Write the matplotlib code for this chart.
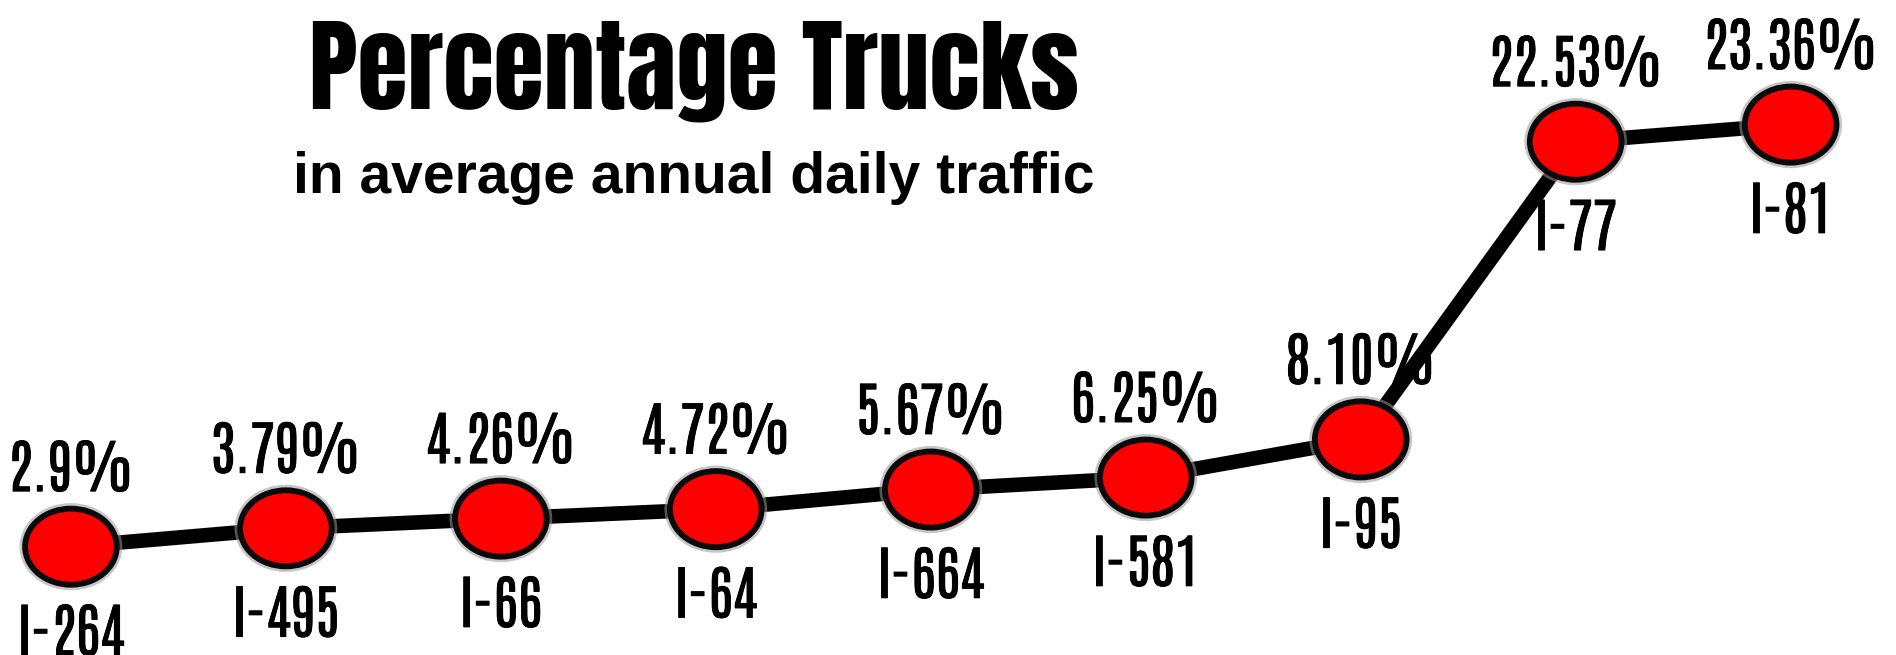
#import the necessary libraries
import numpy as np
import matplotlib
matplotlib.use('Agg')
import matplotlib.pyplot as plt
import matplotlib.patheffects as pe
from matplotlib.path import Path
from matplotlib.transforms import Affine2D

# data
highways = ['I-264', 'I-495', 'I-66', 'I-64', 'I-664', 'I-581', 'I-95', 'I-77', 'I-81']
truck_pct = [2.9, 3.79, 4.26, 4.72, 5.67, 6.25, 8.10, 22.53, 23.36]
pct_labels = ['2.9%', '3.79%', '4.26%', '4.72%', '5.67%', '6.25%', '8.10%', '22.53%', '23.36%']

label_font = ['Antonio', 'Archivo Narrow', 'DejaVu Sans']

x = np.arange(len(highways))

fig = plt.figure(figsize=(18.96, 6.55), dpi=100)
ax = fig.add_axes([0, 0, 1, 1])
ax.set_xlim(-0.33, 8.49)
ax.set_ylim(-2.35, 29.4)
ax.axis('off')

# thick black connecting line
ax.plot(x, truck_pct, color='black', lw=10.5, solid_capstyle='round', zorder=1)

# red oval markers, dark rim with a soft grey glow
oval = Affine2D().scale(1, 0.83).transform_path(Path.unit_circle())
ax.plot(x, truck_pct, linestyle='none', marker=oval, markersize=66,
        markerfacecolor='#ff0000', markeredgecolor='#0a0a0a', markeredgewidth=4.2,
        zorder=2,
        path_effects=[pe.Stroke(linewidth=8, foreground='#9a9a9a', alpha=0.55), pe.Normal()])

# value above, highway name below (thin stroke makes the font a touch heavier)
thicker = [pe.Stroke(linewidth=0.6, foreground='black'), pe.Normal()]
for xi, yi, val, name in zip(x, truck_pct, pct_labels, highways):
    ax.annotate(val, (xi, yi), xytext=(0, 40), textcoords='offset points',
                ha='center', va='baseline', fontsize=42, family=label_font,
                path_effects=thicker, zorder=3)
    ax.annotate(name, (xi, yi), xytext=(0, -78), textcoords='offset points',
                ha='center', va='baseline', fontsize=42, family=label_font,
                path_effects=thicker, zorder=3)

# title block
fig.text(0.366, 0.834, 'Percentage Trucks', ha='center', va='baseline',
         fontsize=74, family=['Anton', 'DejaVu Sans'])
fig.text(0.366, 0.705, 'in average annual daily traffic', ha='center', va='baseline',
         fontsize=41, fontweight='bold', family=['Liberation Sans', 'DejaVu Sans'])

plt.savefig('out.png', dpi=100, facecolor='white')
